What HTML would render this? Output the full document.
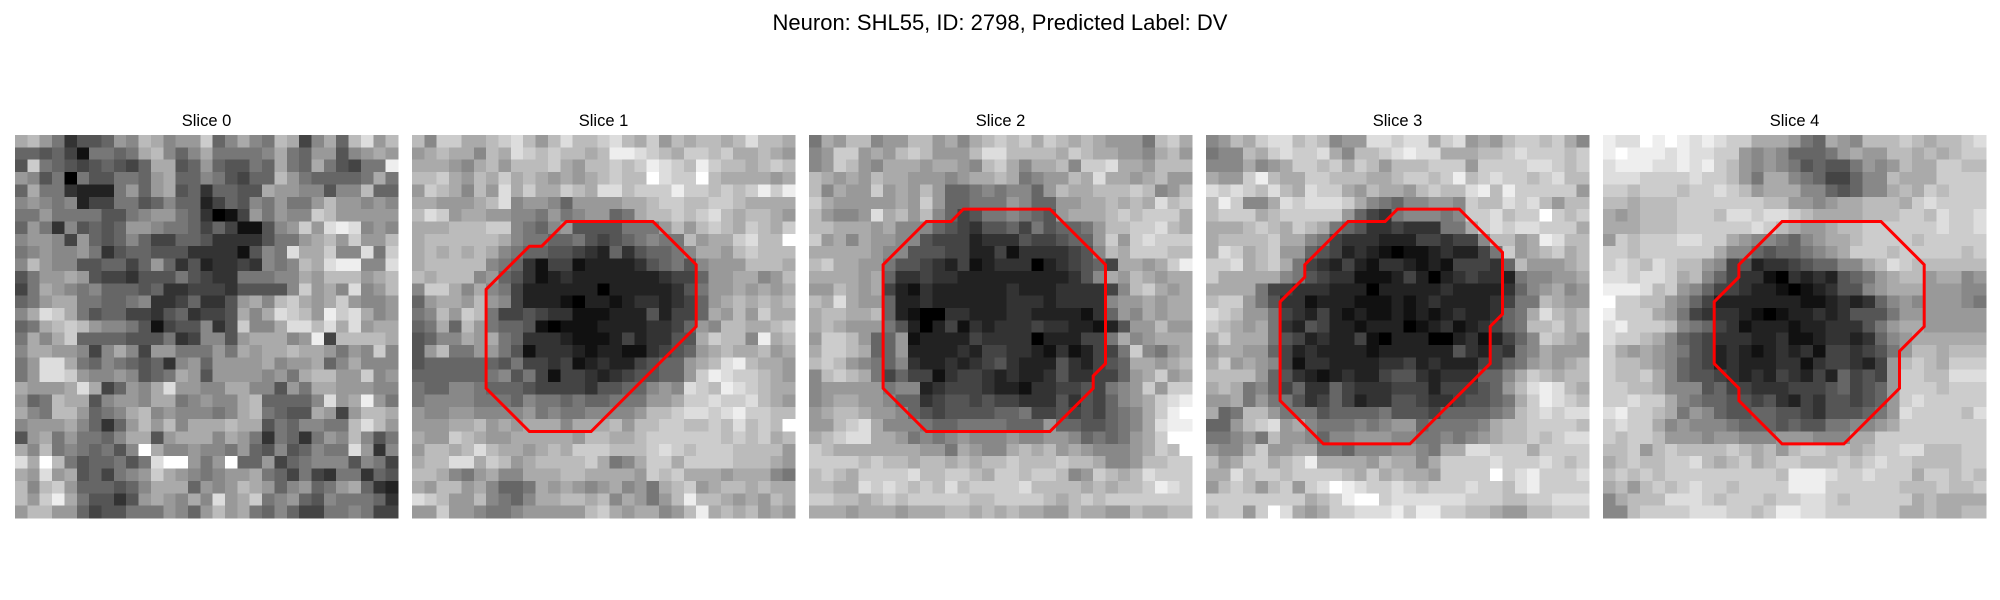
<!DOCTYPE html>
<html><head><meta charset="utf-8"><style>
html,body{margin:0;padding:0;background:#fff;}
svg{display:block;}
text{font-family:"Liberation Sans","DejaVu Sans",sans-serif;fill:#000;}
</style></head><body>
<svg id="fig" width="2000" height="600" viewBox="0 0 2000 600" xmlns="http://www.w3.org/2000/svg" shape-rendering="crispEdges">
<rect width="2000" height="600" fill="#fff"/>
<text x="1000" y="30" text-anchor="middle" font-size="22">Neuron: SHL55, ID: 2798, Predicted Label: DV</text>
</svg>
<script>
const sliceTitles = ["Slice 0","Slice 1","Slice 2","Slice 3","Slice 4"];
// grayscale intensity per pixel, hex digit 0 (black) .. f (white), 31x31 per slice
const slice0Rows = [
"ab97355698ba899c68a87ba48a6bd9b","6656417767ab868a77778a7699589a9","5c765456546aa5696557 6a76a7547 7e","98570755776 9a66875466b97666 67a7","6a77322279 69a563665 5a998858 8b6","8987824477568662465879779b99898a","7797777557899763014979 88cb99999","69738565699877646411589c9ded89 8b","8998496568644665333357 79ab9c99b","78988973566555333315 87daac88d7c","8b988556646963523343878badee88dc","5799a95443555754337778 8a9bbb9ab","47a98786665633444355558c9a8d89b","679aa776678334633 59a8bca9ac988 9","8adca756644356344 5a8adcb9ecda89","67abcb988751455835c88add bdad9a","7a8ac6666555734885 9aaa89e4bbbba","8aa998 48a849977797a9aabaa979 8c8","79dda768765638969999a899a68a88","79ddc98898567a959999897abb99c89","a999ada469 8ad998 8aa8859 7aa9998","967baa589 98aa789 88ab66668d9ae97","a87bb96 78ab898887 8ab7655a949bba","8999a8636 9b9b8aaaba a57688 77bdb9","59a797768aa59aaa8a973763798b857","a8b78767 58fa88988796585687 7d938","dafb7566757dff979f6694678885874","a9d9a5647 89ca98789 9a7647437736 5","b8bc96665 68aaa69 89ba968967 9a632","b9cea75535 9a98a8d9ac789658777 63","9bb99645577 79869b9a7686447787 44"];
const slice1Rows = [
"b8ccaabcdb9bdbbcdbac9babbabdbba","9abaa8badcbcbbabeedcbaccbcaaba9","aaa98ab9bbbca9bbcbcedcbecbbabcb","bbca9bacaba9a9abcbbfdccfbaaaa9a","9cba8b9dacaacbaddbccceccbcbcece","aa999abd899869999aabccbbccbaaaa","bdc9aa998879789967abbcbcdbabba9","aaabbbcc876895555777 9b9bcbacbac","abbbbbba877667545678 77b9aacdbbf","abababa876655432635667 8aa9bcbb","abbbbb87631441222235 6758999bbba","babbb89653123222222234469 9aa89b","8cca8a874222222022222357 99a9a9a","69aa9b984222102212332346 9abab ab","78b9cb74454331112225244 6a9b9ca a","67a6b9766510111222233469 8bbaabc","5688a9a7633321112423355 acbb8eab","59b7799751333212211345 69abaab9a","5666666574434123224566 9abdeba a9","66666678574144323455669 cedccba9","766887666544443556689 8dcbedcbaa","788887776877676677799accdccdba9","988998888978778888 9bbcddcdecc bb","999aab9a9aaa8aaab9bbccbbcbdbcbf","a99cba99aaaaa9bbaabccccccbcbcab","9bbabdbaa9abacccbbbcdcbcccbbbb9","abbddacb9abbbbca78acc accccbbba9","bba879a88aaabbaaaa9cbcaaa9aaa87","a9bb9a8667a9a989a897abc9abbabaa","dcb99b8768aabbab8a979beb ba9a9ba","99c99877899999bca9aa89bea bab9a99"];
const slice2Rows = [
"7a9bb899bb9a8abcbcacbaba9997bca","89cc9a9bcb999bddbbbbacbaa998ab9","89cb98aaa9aa98bca8aab8ccdaa9bb","ba9a9baa999 89aaba789 9badaa9ab9","b8a99c9a9b9667878869baabbbcb89b","ca9999 9a9c96677798669 9aababadbc","b98 89dab9b864577876 59aaabcbccca","bbaaa9a8886543556475667 9bbccdba","c9a8a998854442333544566 9c9cdccc","aaaaa98855544224133334 58bacccbb","bcaa99755432412333023456 4aa9ace","aaaa9a633433222222222358a9ba9aa","99ba9a42132222223222333348bca9a9","bada996223222222333233338 99a9aa","abbaab62100332223322221369 8a9a","aba999752024132333433221259 9b99","9ccb966912222433330222447a89aa","accba669222232443321312447c879a","bcb98768322323453222532456aa9ab","8bcba746441344323223533446 9ac9a","899999788234443221334454789c9cc","89aa9986634554544333535468 9acde","9abba9986545555667445454678acef","99bcda888766777766696655678adee","abcdda a978789888988998 676 79acff","cbaaaaaaa99 7a988aba b9a98889acbf","ccccbcbbabbabab bcbbbcbba889bbcc","bcbaccccdbbccbaccbccb89cbabdccc","bbaadcdcbcbdbccccdbbbbabab bcedc","ccbbabcbccccc bbccccbabcbccccccc","aaa9aaa9aaabbabab aa99baa99baabb"];
const slice3Rows = [
"89bacddbcb899ddcdda cd9a9bccbca8","788bacdccda8bbcdedda aabbcdcccbc","888a89accbcacb9bbbccc9ccccddcbc","a99ceba accbbbaabccbcebcdccbcdb","dcdcbdbadcca9baa9bcbbdebeccccc9","bec88adcdddca87688998cbbdcdb9bb","bccc abccccc96437888 78ccdbccfcbc","aaabcbacba76533433377acdcddccca","abbbbcaa874333222443448bb9aedbb","adcabc996542321011232247c9abcab","ccdabca74324213321214443 6b999ab","caaaaa87543311124202343327889 9a","aaaa744333222022222322223689a89","bcc97533122211121232222347 7ba99","dcb997432421211212123223 67adbab","cba9a73254221222 012312346 7bbcab","acaaa754232241022200231246 8cba9","9aa996423222212222225324378a999","ac9a98413322223342322244679a9ab","bbbb965321232245532333668acbabb","aba7864633643334442444569bdedba","99a7977534642335543345567acedcb","a67bb97775666675554666678bcdcdd","669bcd9a87778789967777 8abbccccb","7789 7b998688999887787 89abbcbcdd","988ac99aa77688899 87aaddcccaccc c","b9acca bcea aaa9baa8accccdcccdcbc","aadbccbccccbacabaa9ccccfcdecccd","9bcb9bc9cdfedccdcbcccdccbdeccc c","ccccccccabceffcddddddcccbbccdddc","bcc9cfda9accdddeceecc bba99bbccc"];
const slice4Rows = [
"eddfefededccaaa976a98bbbcbabbcd","efeeededdcc9898666 79a99bbababcc","deeedded ecb9898756557989baaccbb","dddccccdccb97aa876446 88baaacccc","ccbcccbccdcb9aaa886568 8abacbcc c","bbabbbcccccccbb99 89aabbbacdccc","a9abbbcccbddcddcbaaaabbbccbdccd","aaabbbccccccdcba99abbcccccc dccd","9cbcccddcca98876 89aabccccbcccc c","ccbcccccca886566789acccbccccc bc","cdcbdcbb98452334566 88abdcbbbbb","ddcddcab864331032325679abb9aa89","eeedbc986443221012355 89aaa99988","fccbb98642222222 1123236898999878","eccca974333210122 32355579999999","decccb876431222122 33357 9aa99999","dccba865433322311233236 89aaaaaa","ca9a9875423212323144345 79bbabbb","cbba986542322233134432 49bcbaccc","cbbca8655432324324264549ccbbddd","ccbba888564433344456456 9cccbcc","ccdcca876655453243554569cdcccc c","deccba798655665543555679dccccbd","cdcca8988876665655778 89accccccc","cbccb99989988899988 8aacccccccc","bbc9bcbbbbcba b9bccbbabccddbbbcc","abcbbccdbabcabccbbbcbcdccbbbbcc","bcbcbcccccccccbeeedccdcccacc bcb","ab9bcbcdccbccccee eccccccbbbcbbc","8abbbdddcbcccbccddcbcccccabaaaa","88bcccc dddccbceeddccccccaabaab"];
// contour vertices (pixel coords) for slices 1-4; slice 0 has none
const contour1 = [[12.5,7],[19.5,7],[23,10.5],[23,15.5],[14.5,24],[9.5,24],[6,20.5],[6,12.5],[9.5,9],[10.5,9]];
const contour2 = [[12.5,6],[19.5,6],[24,10.5],[24,18.5],[23,19.5],[23,20.5],[19.5,24],[9.5,24],[6,20.5],[6,10.5],[9.5,7],[11.5,7]];
const contour3 = [[15.5,6],[20.5,6],[24,9.5],[24,14.5],[23,15.5],[23,18.5],[16.5,25],[9.5,25],[6,21.5],[6,13.5],[8,11.5],[8,10.5],[11.5,7],[14.5,7]];
const contour4 = [[14.5,7],[22.5,7],[26,10.5],[26,15.5],[24,17.5],[24,20.5],[19.5,25],[14.5,25],[11,21.5],[11,20.5],[9,18.5],[9,13.5],[11,11.5],[11,10.5]];

const allRows = [slice0Rows, slice1Rows, slice2Rows, slice3Rows, slice4Rows];
const allContours = [null, contour1, contour2, contour3, contour4];

const NS = "http://www.w3.org/2000/svg";
const svg = document.getElementById('fig');
const N = 31, PX0 = 15, PY0 = 135, PW = 383, STEP = 397;
const cs = PW / N;
function clean(r){ r = r.replace(/\s+/g,''); while (r.length < N) r += r[r.length-1] || '8'; return r.slice(0,N); }
function xs(i, c){ return PX0 + i*STEP + c*cs; }
function ys(r){ return PY0 + r*cs; }

allRows.forEach((rows, i) => {
  const g = document.createElementNS(NS,'g');
  
  
  svg.appendChild(g);
  const t = document.createElementNS(NS,'text');
  
  
  t.setAttribute('x', xs(i, N/2)); t.setAttribute('y', 126);
  t.setAttribute('text-anchor','middle'); t.setAttribute('font-size','16.5');
  t.textContent = sliceTitles[i];
  g.appendChild(t);
  const img = document.createElementNS(NS,'g');
  
  
  g.appendChild(img);
  rows.forEach((row, r) => {
    const s = clean(row);
    for (let c = 0; c < N; c++) {
      const v = Math.round(parseInt(s[c],16) * 255 / 15);
      const rect = document.createElementNS(NS,'rect');
      
      
      const x0 = xs(i,c), y0 = ys(r);
      rect.setAttribute('x', x0.toFixed(2)); rect.setAttribute('y', y0.toFixed(2));
      rect.setAttribute('width', (cs+0.6).toFixed(2)); rect.setAttribute('height', (cs+0.6).toFixed(2));
      rect.setAttribute('fill', 'rgb(' + v + ',' + v + ',' + v + ')');
      img.appendChild(rect);
    }
  });
  const ct = allContours[i];
  if (ct) {
    const p = document.createElementNS(NS,'polygon');
    
    
    p.setAttribute('points', ct.map(q => xs(i,q[0]).toFixed(1) + ',' + ys(q[1]).toFixed(1)).join(' '));
    p.setAttribute('fill','none'); p.setAttribute('stroke','#ff0000');
    p.setAttribute('stroke-width','3'); p.setAttribute('stroke-linejoin','miter');
    p.setAttribute('shape-rendering','geometricPrecision');
    g.appendChild(p);
  }
});
</script>
</body></html>
